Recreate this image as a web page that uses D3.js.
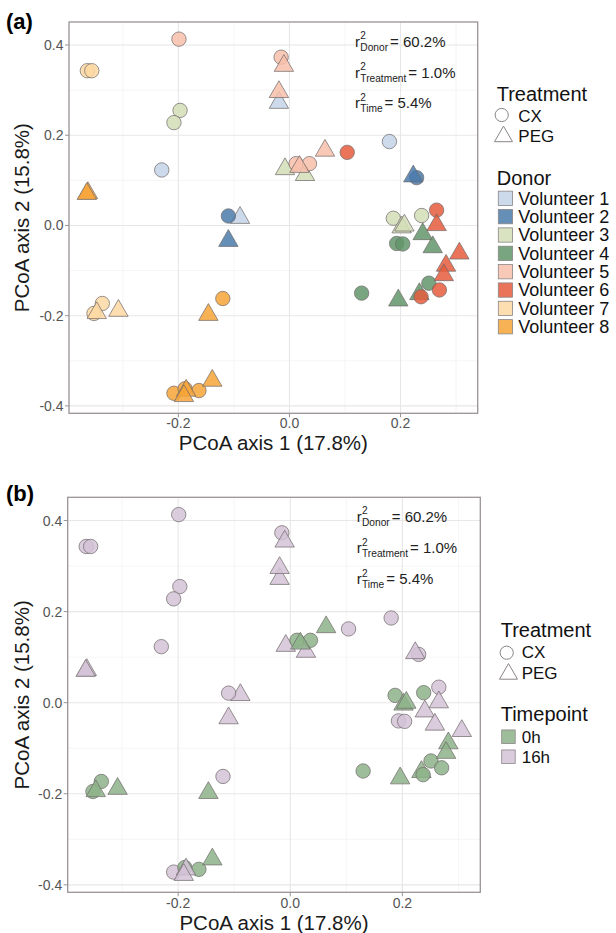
<!DOCTYPE html>
<html><head><meta charset="utf-8">
<script src="https://cdn.jsdelivr.net/npm/d3@7"></script>
<style>body{margin:0;background:#fff;} text{font-family:"Liberation Sans",Arial,sans-serif;}</style>
</head><body>
<svg id="c" width="616" height="933"></svg>
<script>
// ---- data ----
const pc1 = [-0.230, 0.180, -0.019, -0.089,
  -0.110, 0.229, -0.110, 0.223,
  -0.197, -0.208, -0.008, 0.028, 0.187, 0.238, 0.202, 0.207,
  0.193, 0.204, 0.240, 0.258, 0.130, 0.251, 0.196, 0.234,
  -0.199, -0.015, -0.010, -0.019, 0.012, 0.036, 0.018, 0.064,
  0.104, 0.265, 0.265, 0.306, 0.270, 0.237, 0.282, 0.278,
  -0.364, -0.356, -0.337, -0.352, -0.347, -0.308,
  -0.363, -0.365, -0.120, -0.146, -0.208, -0.188, -0.163, -0.186, -0.190, -0.139];
const pc2 = [0.123, 0.186, 0.272, 0.017,
  0.021, 0.106, -0.034, 0.109,
  0.255, 0.228, 0.125, 0.112, 0.016, 0.022, -0.004, 0.000,
  -0.040, -0.041, -0.019, -0.048, -0.150, -0.128, -0.166, -0.152,
  0.413, 0.373, 0.354, 0.296, 0.137, 0.137, 0.130, 0.166,
  0.162, 0.034, 0.001, -0.062, -0.143, -0.158, -0.089, -0.110,
  0.343, 0.343, -0.173, -0.195, -0.194, -0.189,
  0.072, 0.070, -0.162, -0.198, -0.372, -0.362, -0.366, -0.366, -0.378, -0.344];
const donorOf = [1,1,1,1, 2,2,2,2, 3,3,3,3,3,3,3,3, 4,4,4,4,4,4,4,4,
  5,5,5,5,5,5,5,5, 6,6,6,6,6,6,6,6, 7,7,7,7,7,7, 8,8,8,8,8,8,8,8,8,8];
const treatmentOf = ["CX","CX","PEG","PEG", "CX","CX","PEG","PEG",
  "CX","CX","PEG","PEG","CX","CX","PEG","PEG",
  "CX","CX","PEG","PEG","CX","CX","PEG","PEG",
  "CX","CX","PEG","PEG","CX","CX","PEG","PEG",
  "CX","CX","PEG","PEG","CX","CX","PEG","PEG",
  "CX","CX","CX","CX","PEG","PEG",
  "PEG","PEG","CX","PEG","CX","CX","CX","PEG","PEG","PEG"];
const timeOf = ["16h","16h","16h","16h", "16h","16h","16h","16h",
  "16h","16h","16h","16h","0h","0h","0h","0h",
  "16h","16h","16h","16h","0h","0h","0h","0h",
  "16h","16h","16h","16h","0h","0h","0h","0h",
  "16h","16h","16h","16h","0h","0h","0h","0h",
  "16h","16h","0h","0h","0h","0h",
  "16h","16h","16h","0h","16h","0h","0h","16h","16h","0h"];
const donors = ["Volunteer 1","Volunteer 2","Volunteer 3","Volunteer 4","Volunteer 5","Volunteer 6","Volunteer 7","Volunteer 8"];
const donorColors = ["#c3d3e8","#4b7bab","#d2ddb6","#62956a","#f8bfac","#e65c3c","#fdd8a2","#f7a538"];
const treatments = ["CX","PEG"];
const timepoints = ["0h","16h"];
const timeColors = ["#8db389","#d4c2d7"];
const xTicks = [-0.2, 0.0, 0.2];
const xTickLabels = ["-0.2","0.0","0.2"];
const yTicks = [-0.4, -0.2, 0.0, 0.2, 0.4];
const yTickLabels = ["-0.4","-0.2","0.0","0.2","0.4"];
const xMinor = [-0.3, -0.1, 0.1, 0.3];
const yMinor = [-0.3, -0.1, 0.1, 0.3];
const r2Terms = ["Donor","Treatment","Time"];
const r2Values = ["60.2%","1.0%","5.4%"];
const xDomain = [-0.397, 0.339];
const yDomain = [-0.4164, 0.451];

const points = pc1.map((x,i)=>({x, y: pc2[i], donor: donorOf[i], trt: treatmentOf[i], time: timeOf[i]}));

const svg = d3.select("#c");
const panels = [
  {tag:"(a)", left:69, right:477.7, top:22, bottom:413.3, tagY:28.7, xTickY:428, xTitleY:450,
   r2x:355, r2y:[46.7,77.5,108.3], mode:"donor",
   leg:{tx:496.7, t1:100.7, cx:501.7, cy:115, triX:503.5, triY:136.5, lx:518.3, cxY:121.7, pegY:141.7,
        t2:185, sqx:498.3, sq:14.3, sqy0:198.3, sqdy:18.35, lab2x:518.3}},
  {tag:"(b)", left:67.7, right:480.3, top:497.3, bottom:892.3, tagY:500.5, xTickY:908, xTitleY:930,
   r2x:356.7, r2y:[521.7,553.3,584.3], mode:"time",
   leg:{tx:500.7, t1:637.3, cx:506.7, cy:652.7, triX:508.5, triY:674, lx:521.7, cxY:658, pegY:679,
        t2:720.7, sqx:501.7, sq:13.5, sqy0:736.7, sqdy:20, lab2x:521.7}}
];

const circleSym = d3.symbol().type(d3.symbolCircle).size(163);
const triSym = d3.symbol().type(d3.symbolTriangle).size(163);

panels.forEach(p => {
  const g = svg.append("g");
  const x = d3.scaleLinear().domain(xDomain).range([p.left, p.right]);
  const y = d3.scaleLinear().domain(yDomain).range([p.bottom, p.top]);
  // grid
  g.selectAll(".gxm").data(xMinor).join("line").attr("x1",d=>x(d)).attr("x2",d=>x(d))
    .attr("y1",p.top).attr("y2",p.bottom).attr("stroke","#f2f0f0").attr("stroke-width",0.7);
  g.selectAll(".gym").data(yMinor).join("line").attr("y1",d=>y(d)).attr("y2",d=>y(d))
    .attr("x1",p.left).attr("x2",p.right).attr("stroke","#f2f0f0").attr("stroke-width",0.7);
  g.selectAll(".gx").data(xTicks).join("line").attr("x1",d=>x(d)).attr("x2",d=>x(d))
    .attr("y1",p.top).attr("y2",p.bottom).attr("stroke","#e8e6e6").attr("stroke-width",1.1);
  g.selectAll(".gy").data(yTicks).join("line").attr("y1",d=>y(d)).attr("y2",d=>y(d))
    .attr("x1",p.left).attr("x2",p.right).attr("stroke","#e8e6e6").attr("stroke-width",1.1);
  // points
  const fill = d => p.mode==="donor" ? donorColors[d.donor-1] : timeColors[timepoints.indexOf(d.time)];
  g.selectAll(".pt").data(points).join("path")
    .attr("transform", d=>`translate(${x(d.x)},${y(d.y)})`)
    .attr("d", d=> d.trt==="CX" ? circleSym() : triSym())
    .attr("fill", fill).attr("fill-opacity",0.85)
    .attr("stroke","#6f6a6a").attr("stroke-opacity",0.8).attr("stroke-width",0.9);
  // border
  g.append("rect").attr("x",p.left).attr("y",p.top).attr("width",p.right-p.left).attr("height",p.bottom-p.top)
    .attr("fill","none").attr("stroke","#9b9393").attr("stroke-width",1.3);
  // ticks
  g.selectAll(".tx").data(xTicks).join("line").attr("x1",d=>x(d)).attr("x2",d=>x(d))
    .attr("y1",p.bottom).attr("y2",p.bottom+4).attr("stroke","#9b9393").attr("stroke-width",1);
  g.selectAll(".ty").data(yTicks).join("line").attr("y1",d=>y(d)).attr("y2",d=>y(d))
    .attr("x1",p.left-4).attr("x2",p.left).attr("stroke","#9b9393").attr("stroke-width",1);
  g.selectAll(".txl").data(xTicks).join("text").attr("x",d=>x(d)).attr("y",p.xTickY)
    .attr("text-anchor","middle").attr("font-size",14).attr("fill","#555").text((d,i)=>xTickLabels[i]);
  g.selectAll(".tyl").data(yTicks).join("text").attr("x",p.left-5.5).attr("y",d=>y(d)+5)
    .attr("text-anchor","end").attr("font-size",14).attr("fill","#555").text((d,i)=>yTickLabels[i]);
  // axis titles
  g.append("text").attr("x",(p.left+p.right)/2).attr("y",p.xTitleY).attr("text-anchor","middle")
    .attr("font-size",20.5).attr("fill","#1a1a1a").text("PCoA axis 1 (17.8%)");
  g.append("text").attr("transform",`translate(29,${(p.top+p.bottom)/2}) rotate(-90)`).attr("text-anchor","middle")
    .attr("font-size",20.5).attr("fill","#1a1a1a").text("PCoA axis 2 (15.8%)");
  // panel tag
  g.append("text").attr("x",6).attr("y",p.tagY).attr("font-size",22).attr("font-weight","bold").text(p.tag);
  // r2 annotations
  r2Terms.forEach((t,i)=>{
    const bx = p.r2x, by = p.r2y[i];
    g.append("text").attr("x",bx).attr("y",by).attr("font-size",15).attr("fill","#222").text("r");
    g.append("text").attr("x",bx+5.3).attr("y",by-7.5).attr("font-size",10).attr("fill","#222").text("2");
    const sub = g.append("text").attr("x",bx+5.3).attr("y",by+4).attr("font-size",10.2).attr("fill","#222").text(t);
    const w = sub.node().getComputedTextLength();
    g.append("text").attr("x",bx+5.3+w+2).attr("y",by).attr("font-size",15).attr("fill","#222").text("= "+r2Values[i]);
  });
  // legend
  const L = p.leg;
  g.append("text").attr("x",L.tx).attr("y",L.t1).attr("font-size",20).attr("fill","#111").text("Treatment");
  g.append("circle").attr("cx",L.cx).attr("cy",L.cy).attr("r",6.6).attr("fill","none").attr("stroke","#8a8585").attr("stroke-width",1);
  g.append("path").attr("transform",`translate(${L.triX},${L.triY})`).attr("d",d3.symbol().type(d3.symbolTriangle).size(140)())
    .attr("fill","none").attr("stroke","#8a8585").attr("stroke-width",1);
  g.append("text").attr("x",L.lx).attr("y",L.cxY).attr("font-size",17).attr("fill","#111").text(treatments[0]);
  g.append("text").attr("x",L.lx).attr("y",L.pegY).attr("font-size",17).attr("fill","#111").text(treatments[1]);
  const cats = p.mode==="donor" ? donors : timepoints;
  const cols = p.mode==="donor" ? donorColors : timeColors;
  g.append("text").attr("x",L.tx).attr("y",L.t2).attr("font-size",20).attr("fill","#111").text(p.mode==="donor"?"Donor":"Timepoint");
  cats.forEach((c,i)=>{
    const cy = L.sqy0 + i*L.sqdy;
    g.append("rect").attr("x",L.sqx).attr("y",cy-L.sq/2).attr("width",L.sq).attr("height",L.sq)
      .attr("fill",cols[i]).attr("fill-opacity",0.85).attr("stroke","#8a8585").attr("stroke-width",0.8);
    g.append("text").attr("x",L.lab2x).attr("y",cy+6.3).attr("font-size",p.mode==="donor"?18:17).attr("fill","#111").text(c);
  });
});
</script>
</body></html>
